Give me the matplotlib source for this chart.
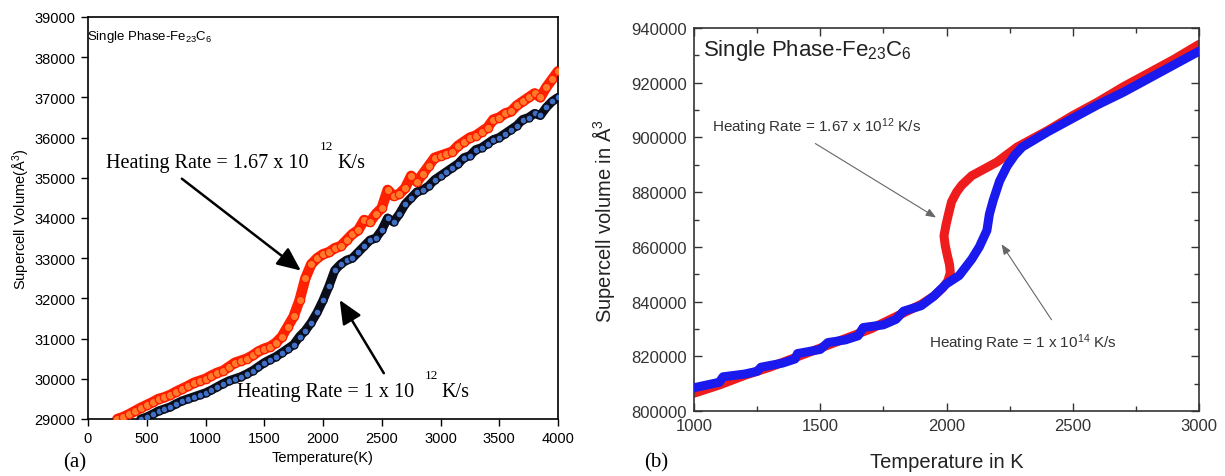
import matplotlib
matplotlib.use("Agg")
import matplotlib.pyplot as plt
from matplotlib.ticker import MultipleLocator

plt.rcParams['font.family'] = ['Liberation Sans', 'DejaVu Sans']
plt.rcParams['mathtext.fontset'] = 'custom'
plt.rcParams['mathtext.rm'] = 'Liberation Sans'
plt.rcParams['mathtext.it'] = 'Liberation Sans:italic'

# ---------------- panel (a) data ----------------
red_a_T = [250, 300, 350, 400, 450, 500, 550, 600, 650, 700, 750, 800, 850, 900, 950,
           1000, 1050, 1100, 1150, 1200, 1250, 1300, 1350, 1400, 1450, 1500, 1550, 1600,
           1650, 1700, 1750, 1800, 1850, 1900, 1950, 2000, 2050, 2100, 2150, 2200, 2250,
           2300, 2350, 2400, 2450, 2500, 2550, 2600, 2650, 2700, 2750, 2800, 2850, 2900,
           2950, 3000, 3050, 3100, 3150, 3200, 3250, 3300, 3350, 3400, 3450, 3500, 3550,
           3600, 3650, 3700, 3750, 3800, 3850, 3900, 3950, 4000]
red_a_V = [29000, 29050, 29120, 29200, 29280, 29350, 29420, 29500, 29540, 29600, 29680,
           29750, 29820, 29900, 29950, 30000, 30080, 30150, 30200, 30300, 30400, 30450,
           30500, 30580, 30680, 30750, 30800, 30900, 31050, 31300, 31550, 31950, 32500,
           32850, 33000, 33100, 33150, 33250, 33300, 33450, 33600, 33700, 33950, 33900,
           34100, 34250, 34700, 34550, 34600, 34750, 35050, 34900, 35100, 35300, 35500,
           35550, 35600, 35650, 35800, 35900, 36000, 36050, 36150, 36250, 36450, 36500,
           36600, 36650, 36800, 36900, 37000, 37100, 37000, 37250, 37450, 37650]
blue_a_T = [450, 500, 550, 600, 650, 700, 750, 800, 850, 900, 950, 1000, 1050, 1100, 1150,
            1200, 1250, 1300, 1350, 1400, 1450, 1500, 1550, 1600, 1650, 1700, 1750, 1800,
            1850, 1900, 1950, 2000, 2050, 2100, 2150, 2200, 2250, 2300, 2350, 2400, 2450,
            2500, 2550, 2600, 2650, 2700, 2750, 2800, 2850, 2900, 2950, 3000, 3050, 3100,
            3150, 3200, 3250, 3300, 3350, 3400, 3450, 3500, 3550, 3600, 3650, 3700, 3750,
            3800, 3850, 3900, 3950, 4000]
blue_a_V = [29000, 29050, 29120, 29200, 29250, 29300, 29380, 29450, 29500, 29550, 29600,
            29650, 29720, 29800, 29880, 29950, 30000, 30050, 30120, 30200, 30300, 30400,
            30480, 30550, 30650, 30750, 30850, 31050, 31200, 31400, 31650, 31950, 32300,
            32700, 32850, 32950, 33000, 33150, 33300, 33450, 33500, 33700, 34000, 33900,
            34100, 34350, 34500, 34650, 34700, 34800, 34950, 35050, 35150, 35250, 35350,
            35500, 35550, 35700, 35750, 35850, 35950, 36000, 36100, 36200, 36300, 36450,
            36500, 36600, 36550, 36750, 36900, 37000]

# ---------------- panel (b) data ----------------
red_b_T = [1000, 1100, 1200, 1300, 1400, 1500, 1600, 1700, 1800, 1900, 1950, 1985, 2005,
           2015, 2012, 2003, 1995, 1990, 1998, 2008, 2020, 2040, 2060, 2100, 2150, 2200,
           2280, 2400, 2500, 2600, 2700, 2800, 2900, 3000]
red_b_V = [806500, 809500, 813000, 816000, 819500, 823000, 826500, 830000, 834500, 839000,
           842000, 845000, 847500, 850500, 853500, 857000, 860500, 864000, 868000, 872000,
           876500, 880000, 882500, 886000, 888500, 891000, 896500, 902500, 908000, 913000,
           918500, 923500, 928500, 934000]
blue_b_T = [1000, 1050, 1100, 1115, 1200, 1250, 1265, 1350, 1400, 1410, 1500, 1530, 1600,
            1650, 1670, 1750, 1800, 1830, 1900, 1950, 2000, 2050, 2100, 2130, 2160, 2170,
            2185, 2210, 2240, 2270, 2300, 2400, 2500, 2600, 2700, 2800, 2900, 3000]
blue_b_V = [808500, 809500, 810500, 812500, 813500, 814500, 816000, 817500, 819000, 821000,
            822500, 825000, 826000, 827500, 830500, 831500, 833500, 836500, 838500, 842000,
            846500, 849500, 855500, 860000, 866000, 872000, 877000, 884000, 889500, 893500,
            896500, 902000, 907000, 912000, 916500, 921500, 926500, 931500]

fig = plt.figure(figsize=(12.25, 4.77), dpi=100)

# ================= panel (a) =================
ax = fig.add_axes([88/1225, 1-420/477, 470/1225, 402/477])
ax.plot(red_a_T, red_a_V, color='#ff2200', lw=7.5, solid_capstyle='round',
        solid_joinstyle='round', zorder=2)
ax.plot(red_a_T, red_a_V, ls='none', marker='o', ms=6, mfc='#ff7a2a', mec='#ff1a00',
        mew=0.9, zorder=3)
ax.plot(blue_a_T, blue_a_V, color='#0a0d1a', lw=6.5, solid_capstyle='round',
        solid_joinstyle='round', zorder=2)
ax.plot(blue_a_T, blue_a_V, ls='none', marker='o', ms=5, mfc='#3f6fc6', mec='#0a0d1a',
        mew=0.9, zorder=3)
ax.set_xlim(0, 4000)
ax.set_ylim(29000, 39000)
ax.xaxis.set_major_locator(MultipleLocator(500))
ax.yaxis.set_major_locator(MultipleLocator(1000))
ax.tick_params(direction='out', length=5, width=1, labelsize=10.5, pad=4)
for s in ax.spines.values():
    s.set_linewidth(1.2)
ax.set_xlabel('Temperature(K)', fontsize=10.5, labelpad=3)
ax.set_ylabel('Supercell Volume(Å$\\mathregular{^3}$)', fontsize=10.5, labelpad=2)
ax.text(-10, 38530, 'Single Phase-Fe$\\mathregular{_{23}}$C$\\mathregular{_6}$',
        fontsize=9.5, ha='left', va='center')

serif = ['Liberation Serif', 'DejaVu Serif']
ax.text(150, 35370, 'Heating Rate = 1.67 x 10', family=serif, fontsize=14.5,
        ha='left', va='center')
ax.text(1975, 35790, '12', family=serif, fontsize=9.5, ha='left', va='center')
ax.text(2120, 35370, 'K/s', family=serif, fontsize=14.5, ha='left', va='center')
ax.text(1270, 29690, 'Heating Rate = 1 x 10', family=serif, fontsize=14.5,
        ha='left', va='center')
ax.text(2865, 30100, '12', family=serif, fontsize=9.5, ha='left', va='center')
ax.text(3010, 29690, 'K/s', family=serif, fontsize=14.5, ha='left', va='center')
ax.annotate('', xy=(1830, 32650), xytext=(780, 35020),
            arrowprops=dict(arrowstyle='-|>,head_length=0.9,head_width=0.4',
                            mutation_scale=16, lw=1.8, color='black'))
ax.annotate('', xy=(2130, 32020), xytext=(2530, 30080),
            arrowprops=dict(arrowstyle='-|>,head_length=0.9,head_width=0.4',
                            mutation_scale=16, lw=1.8, color='black'))
fig.text(75/1225, 1-463/477, '(a)', family=serif, fontsize=15, ha='center', va='center')

# ================= panel (b) =================
grey = '#333333'
bx = fig.add_axes([694/1225, 1-412/477, 505/1225, 383/477])
bx.plot(red_b_T, red_b_V, color='#ee1c1c', lw=6.5, solid_capstyle='round',
        solid_joinstyle='round', zorder=2)
bx.plot(blue_b_T, blue_b_V, color='#1a1aee', lw=6.5, solid_capstyle='round',
        solid_joinstyle='round', zorder=3)
bx.set_xlim(1000, 3000)
bx.set_ylim(800000, 940000)
bx.xaxis.set_major_locator(MultipleLocator(500))
bx.xaxis.set_minor_locator(MultipleLocator(250))
bx.yaxis.set_major_locator(MultipleLocator(20000))
bx.yaxis.set_minor_locator(MultipleLocator(10000))
bx.tick_params(which='both', direction='in', top=True, right=True, colors=grey,
               labelsize=12, width=1)
bx.tick_params(which='major', length=6, pad=5)
bx.tick_params(which='minor', length=3.5)
for s in bx.spines.values():
    s.set_color(grey)
    s.set_linewidth(1.2)
bx.set_xlabel('Temperature in K', fontsize=14.5, color='#222222', labelpad=14)
bx.set_ylabel('Supercell volume in Å$\\mathregular{^3}$', fontsize=14.5, color='#222222',
              labelpad=10)
bx.text(1035, 932000, 'Single Phase-Fe$\\mathregular{_{23}}$C$\\mathregular{_6}$',
        fontsize=16, color='#222222', ha='left', va='center')
bx.text(1070, 904000, 'Heating Rate = 1.67 x 10$\\mathregular{^{12}}$ K/s', fontsize=11,
        color=grey, ha='left', va='center')
bx.text(1930, 825000, 'Heating Rate = 1 x 10$\\mathregular{^{14}}$ K/s', fontsize=11,
        color=grey, ha='left', va='center')
bx.annotate('', xy=(1968, 870200), xytext=(1471, 898300),
            arrowprops=dict(arrowstyle='-|>,head_length=0.5,head_width=0.2',
                            mutation_scale=12, lw=0.8, color='#666666'))
bx.annotate('', xy=(2212, 861800), xytext=(2422, 832500),
            arrowprops=dict(arrowstyle='-|>,head_length=0.5,head_width=0.2',
                            mutation_scale=12, lw=0.8, color='#666666'))
fig.text(656/1225, 1-463/477, '(b)', family=serif, fontsize=15, ha='center', va='center')

fig.savefig('out.png', dpi=100)
